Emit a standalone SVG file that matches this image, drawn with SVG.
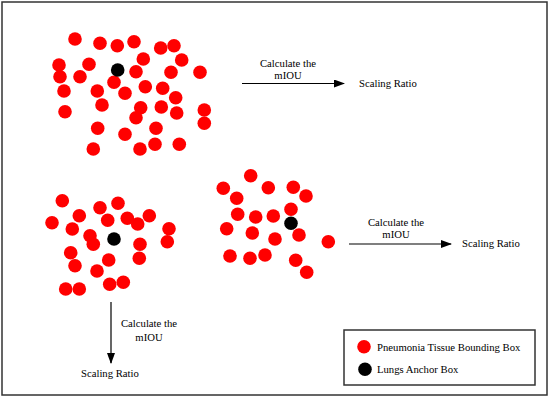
<svg xmlns="http://www.w3.org/2000/svg" width="550" height="398" viewBox="0 0 550 398">
<defs>
<style>
.r{fill:#ff0000}
.k{fill:#000000}
circle{r:6.8px}
.t{font-family:"Liberation Serif","Times New Roman",serif;font-size:10.7px;fill:#000}
.c{text-anchor:middle}
.ln{stroke:#000;stroke-width:1.2;fill:none}
.frame{fill:#fff;stroke:#333;stroke-width:1.5}
</style>
<marker id="ah" markerWidth="11" markerHeight="8" refX="10" refY="4" orient="auto" markerUnits="userSpaceOnUse">
<path d="M0,0 L11,4 L0,8 Z" fill="#000"/>
</marker>
</defs>
<rect class="frame" x="2" y="2" width="545" height="393"/>
<g id="cluster-top">
<circle class="r" cx="75" cy="39" r="6.8"/>
<circle class="r" cx="100" cy="43.3" r="6.8"/>
<circle class="r" cx="117.3" cy="45.7" r="6.8"/>
<circle class="r" cx="134" cy="41.7" r="6.8"/>
<circle class="r" cx="160.7" cy="48" r="6.8"/>
<circle class="r" cx="174" cy="45.7" r="6.8"/>
<circle class="r" cx="59" cy="65" r="6.8"/>
<circle class="r" cx="89" cy="64.3" r="6.8"/>
<circle class="r" cx="143.3" cy="59" r="6.8"/>
<circle class="r" cx="181.7" cy="60" r="6.8"/>
<circle class="r" cx="60" cy="76.7" r="6.8"/>
<circle class="r" cx="80" cy="76.7" r="6.8"/>
<circle class="r" cx="136" cy="71.7" r="6.8"/>
<circle class="r" cx="171" cy="72.3" r="6.8"/>
<circle class="r" cx="200" cy="72.3" r="6.8"/>
<circle class="r" cx="114" cy="82.3" r="6.8"/>
<circle class="r" cx="64" cy="91" r="6.8"/>
<circle class="r" cx="97.3" cy="91" r="6.8"/>
<circle class="r" cx="125" cy="93.3" r="6.8"/>
<circle class="r" cx="145.3" cy="86.7" r="6.8"/>
<circle class="r" cx="162.7" cy="88.3" r="6.8"/>
<circle class="r" cx="175.7" cy="97.7" r="6.8"/>
<circle class="r" cx="65" cy="111.7" r="6.8"/>
<circle class="r" cx="102" cy="105" r="6.8"/>
<circle class="r" cx="140.7" cy="107.7" r="6.8"/>
<circle class="r" cx="161.3" cy="107" r="6.8"/>
<circle class="r" cx="176.7" cy="113" r="6.8"/>
<circle class="r" cx="204.3" cy="110" r="6.8"/>
<circle class="r" cx="136" cy="117.7" r="6.8"/>
<circle class="r" cx="97.7" cy="128.3" r="6.8"/>
<circle class="r" cx="156" cy="128.3" r="6.8"/>
<circle class="r" cx="125" cy="134.3" r="6.8"/>
<circle class="r" cx="204.3" cy="123.3" r="6.8"/>
<circle class="r" cx="93.3" cy="149" r="6.8"/>
<circle class="r" cx="140" cy="149" r="6.8"/>
<circle class="r" cx="155" cy="144.3" r="6.8"/>
<circle class="r" cx="179.3" cy="144.3" r="6.8"/>
<circle class="k" cx="117.7" cy="70" r="6.8"/>
</g>
<g id="cluster-left">
<circle class="r" cx="62.3" cy="200.7" r="6.8"/>
<circle class="r" cx="100" cy="207.7" r="6.8"/>
<circle class="r" cx="118" cy="203.3" r="6.8"/>
<circle class="r" cx="79.3" cy="215.7" r="6.8"/>
<circle class="r" cx="52" cy="222.7" r="6.8"/>
<circle class="r" cx="107.7" cy="220.3" r="6.8"/>
<circle class="r" cx="127.3" cy="218.3" r="6.8"/>
<circle class="r" cx="137.7" cy="224" r="6.8"/>
<circle class="r" cx="149.3" cy="215.7" r="6.8"/>
<circle class="r" cx="72.3" cy="229" r="6.8"/>
<circle class="r" cx="90" cy="235.7" r="6.8"/>
<circle class="r" cx="169" cy="228.7" r="6.8"/>
<circle class="r" cx="93.3" cy="244.3" r="6.8"/>
<circle class="r" cx="140" cy="244.3" r="6.8"/>
<circle class="r" cx="167.3" cy="241.7" r="6.8"/>
<circle class="r" cx="70.7" cy="252.7" r="6.8"/>
<circle class="r" cx="108.7" cy="260" r="6.8"/>
<circle class="r" cx="139.3" cy="258.3" r="6.8"/>
<circle class="r" cx="75" cy="265.7" r="6.8"/>
<circle class="r" cx="97" cy="271" r="6.8"/>
<circle class="r" cx="65.7" cy="289" r="6.8"/>
<circle class="r" cx="79.3" cy="289" r="6.8"/>
<circle class="r" cx="109.7" cy="284.3" r="6.8"/>
<circle class="r" cx="123.3" cy="282.3" r="6.8"/>
<circle class="k" cx="114" cy="239" r="6.8"/>
</g>
<g id="cluster-right">
<circle class="r" cx="250.7" cy="175.7" r="6.8"/>
<circle class="r" cx="223.3" cy="188.3" r="6.8"/>
<circle class="r" cx="268.3" cy="187.7" r="6.8"/>
<circle class="r" cx="293.3" cy="187.3" r="6.8"/>
<circle class="r" cx="236.7" cy="198.3" r="6.8"/>
<circle class="r" cx="306" cy="196" r="6.8"/>
<circle class="r" cx="291" cy="209.3" r="6.8"/>
<circle class="r" cx="237.7" cy="214.3" r="6.8"/>
<circle class="r" cx="255.7" cy="217" r="6.8"/>
<circle class="r" cx="273.3" cy="216" r="6.8"/>
<circle class="r" cx="226.7" cy="228.7" r="6.8"/>
<circle class="r" cx="252.3" cy="233" r="6.8"/>
<circle class="r" cx="299" cy="235" r="6.8"/>
<circle class="r" cx="275" cy="239" r="6.8"/>
<circle class="r" cx="328.3" cy="241.7" r="6.8"/>
<circle class="r" cx="230" cy="256" r="6.8"/>
<circle class="r" cx="250" cy="258.3" r="6.8"/>
<circle class="r" cx="265" cy="255" r="6.8"/>
<circle class="r" cx="295.7" cy="260.3" r="6.8"/>
<circle class="r" cx="306.7" cy="272.3" r="6.8"/>
<circle class="k" cx="291" cy="223.3" r="6.8"/>
</g>
<g id="connectors">
<line class="ln" x1="242" y1="83.5" x2="344" y2="83.5" marker-end="url(#ah)"/>
<line class="ln" x1="349" y1="244" x2="451" y2="244" marker-end="url(#ah)"/>
<line class="ln" x1="111" y1="302" x2="111" y2="363" marker-end="url(#ah)"/>
</g>
<g id="labels">
<text class="t c" x="288" y="67">Calculate the</text>
<text class="t c" x="288" y="79">mIOU</text>
<text class="t" x="359" y="87">Scaling Ratio</text>
<text class="t c" x="396" y="226">Calculate the</text>
<text class="t c" x="396" y="238">mIOU</text>
<text class="t" x="462" y="247">Scaling Ratio</text>
<text class="t c" x="149" y="327">Calculate the</text>
<text class="t c" x="149" y="341">mIOU</text>
<text class="t" x="81" y="377">Scaling Ratio</text>
</g>
<g id="legend">
<rect x="344" y="330" width="191" height="55" fill="#fff" stroke="#333" stroke-width="1.5"/>
<circle class="r" cx="364" cy="346.7" r="6.8"/>
<circle class="k" cx="365" cy="369.3" r="6.8"/>
<text class="t" x="377" y="350.5">Pneumonia Tissue Bounding Box</text>
<text class="t" x="377" y="373">Lungs Anchor Box</text>
</g>
</svg>
